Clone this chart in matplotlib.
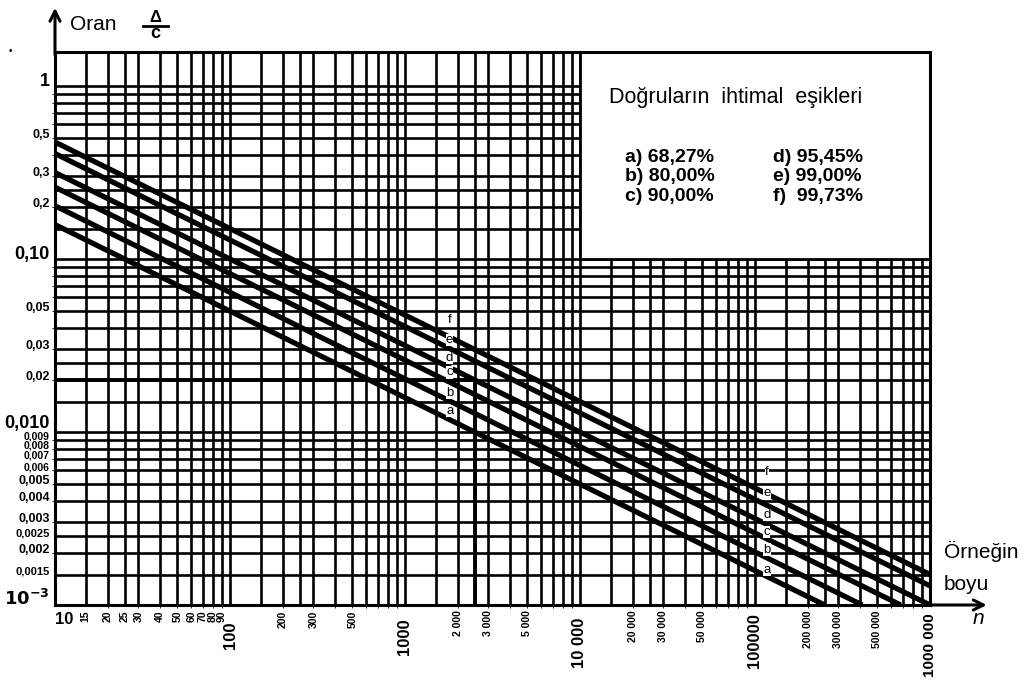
#!/usr/bin/env python

import numpy as np
import matplotlib
matplotlib.use('Agg')
from matplotlib import pyplot as plt
from matplotlib.patches import Rectangle
from matplotlib.lines import Line2D

plt.rcParams['font.family'] = ['Liberation Sans', 'DejaVu Sans']

# Lines of the chart, one per probability threshold
line_names = ['a', 'b', 'c', 'd', 'e', 'f']
line_levels = ['68,27%', '80,00%', '90,00%', '95,45%', '99,00%', '99,73%']

# Ratio read at the left edge (n = 10) and where each line leaves the chart
start_n = [10, 10, 10, 10, 10, 10]
start_ratio = [0.158, 0.203, 0.26, 0.316, 0.407, 0.474]
end_n = [250000, 410000, 680000, 1000000, 1000000, 1000000]
end_ratio = [0.001, 0.001, 0.001, 0.001, 0.00129, 0.0015]

# Worked example drawn on the chart
example_n = 2500
example_ratio = 0.02

# Grid steps inside each decade
grid_steps = [1, 1.5, 2, 2.5, 3, 4, 5, 6, 7, 8, 9]
x_decades = [10, 100, 1000, 10000, 100000]
y_decades = [0.001, 0.01, 0.1, 1]

x_tick_vals = [10, 15, 20, 25, 30, 40, 50, 60, 70, 80, 90, 100, 200, 300, 500,
               1000, 2000, 3000, 5000, 10000, 20000, 30000, 50000, 100000,
               200000, 300000, 500000, 1000000]
x_tick_text = ['10', '15', '20', '25', '30', '40', '50', '60', '70', '80', '90',
               '100', '200', '300', '500', '1000', '2 000', '3 000', '5 000',
               '10 000', '20 000', '30 000', '50 000', '100000', '200 000',
               '300 000', '500 000', '1000 000']
# decade labels are larger and hang a little lower
x_big = [100, 1000, 10000, 100000, 1000000]
x_big_drop = [-0.03, -0.025, -0.022, -0.015, -0.015]

y_tick_vals = [1, 0.5, 0.3, 0.2, 0.1, 0.05, 0.03, 0.02, 0.01, 0.009, 0.008,
               0.007, 0.006, 0.005, 0.004, 0.003, 0.0025, 0.002, 0.0015, 0.001]
y_tick_text = ['1', '0,5', '0,3', '0,2', '0,10', '0,05', '0,03', '0,02', '0,010',
               '0,009', '0,008', '0,007', '0,006', '0,005', '0,004', '0,003',
               '0,0025', '0,002', '0,0015', r'$\mathbf{10^{-3}}$']
y_big = [1, 0.1, 0.01, 0.001]

# where the letter groups sit along the lines
letter_n = [1800, 117000]
letter_lift = [[6, 6, 7, 7, 6, 12], [5, 6, 5, 7, 9, 16]]

W, H = 1027, 685


def px(x, y):
    # pixel position in the figure -> figure fraction
    return x / W, 1 - y / H


def line_value(i, n):
    # value of a straight line (log-log) at n
    lx = np.log10([start_n[i], end_n[i]])
    ly = np.log10([start_ratio[i], end_ratio[i]])
    return 10 ** np.interp(np.log10(n), lx, ly)


fig = plt.figure(figsize=(W / 100, H / 100), dpi=100)
ax = fig.add_axes([55 / W, 80 / H, 875 / W, 553 / H])
ax.set_xscale('log')
ax.set_yscale('log')
ax.set_xlim(10, 1e6)
ax.set_ylim(1e-3, 10 ** (34 / 173))

# grid
for d in x_decades:
    for s in grid_steps:
        ax.axvline(d * s, color='black', lw=1.9, zorder=1)
ax.axvline(1e6, color='black', lw=2, zorder=1)
for d in y_decades:
    for s in grid_steps:
        if d * s < 1.5:
            ax.axhline(d * s, color='black', lw=1.9, zorder=1)

# legend box covers the grid in the upper right
ax.add_patch(Rectangle((1e4, 0.1), 1e6 - 1e4, 2, facecolor='white',
                       edgecolor='black', lw=2, zorder=2))

# probability lines
for i in range(len(line_names)):
    ax.plot([start_n[i], end_n[i]], [start_ratio[i], end_ratio[i]],
            color='black', lw=3.8, solid_capstyle='butt', zorder=3)

# example
ax.plot([10, example_n, example_n], [example_ratio, example_ratio, 1e-3],
        color='black', lw=2.8, zorder=3)

# letters along the lines
for n_pos, lifts in zip(letter_n, letter_lift):
    for i, name in enumerate(line_names):
        ax.annotate(name, (n_pos, line_value(i, n_pos)), xytext=(0, lifts[i]),
                    textcoords='offset points', ha='center', va='center',
                    fontsize=9.5, zorder=4,
                    bbox=dict(facecolor='white', edgecolor='none', pad=0.1))

for s in ax.spines.values():
    s.set_linewidth(2.2)
ax.tick_params(left=False, bottom=False, labelleft=False, labelbottom=False)

# x tick labels
xt = ax.get_xaxis_transform()
for v, s in zip(x_tick_vals, x_tick_text):
    if v == 10:
        ax.text(v, -0.012, s, transform=xt, ha='left', va='top',
                fontsize=12, weight='bold')
    elif v in x_big:
        size = 11 if v == 1000000 else 12
        ax.text(v, x_big_drop[x_big.index(v)], s, transform=xt, ha='center',
                va='top', rotation=90, fontsize=size, weight='bold')
    else:
        ax.text(v, -0.01, s, transform=xt, ha='center', va='top',
                rotation=90, fontsize=7.5, weight='bold')

# y tick labels
yt = ax.get_yaxis_transform()
for v, s in zip(y_tick_vals, y_tick_text):
    if v in y_big:
        size = 13
    elif 0.0055 < v < 0.0095:
        size = 7.5
    elif v in (0.0025, 0.0015):
        size = 8
    else:
        size = 9
    ax.text(-0.006, v, s, transform=yt, ha='right',
            va='bottom' if v == 0.01 else 'baseline',
            fontsize=size, weight='bold')

# legend text
ax.text(0.778, 0.917, 'Doğruların  ihtimal  eşikleri', transform=ax.transAxes,
        ha='center', va='center', fontsize=15.5, zorder=5)
for i, (name, lev) in enumerate(zip(line_names, line_levels)):
    col, row = divmod(i, 3)
    gap = ')  ' if name == 'f' else ') '
    ax.text(0.651 + 0.17 * col, 0.81 - 0.036 * row, name + gap + lev,
            transform=ax.transAxes, ha='left', va='center', fontsize=14,
            weight='bold', zorder=5)

# axis arrows
ax.annotate('', xy=(1.068, 0), xycoords='axes fraction', xytext=(0.99, 0),
            arrowprops=dict(arrowstyle='->', lw=2.2, color='black',
                            mutation_scale=18))
ax.annotate('', xy=(0, 1.085), xycoords='axes fraction', xytext=(0, 0.99),
            arrowprops=dict(arrowstyle='->', lw=2.2, color='black',
                            mutation_scale=18))

# axis names
fig.text(*px(70, 24), 'Oran', ha='left', va='center', fontsize=15)
fig.text(*px(155, 18), 'Δ', ha='center', va='center', fontsize=12,
         weight='bold')
fig.add_artist(Line2D([143 / W, 168 / W], [1 - 26 / H, 1 - 26 / H],
                      color='black', lw=2))
fig.text(*px(155, 34), 'c', ha='center', va='center', fontsize=13,
         weight='bold')
fig.text(*px(10, 51), '•', ha='center', va='center', fontsize=7)
fig.text(*px(944, 551), 'Örneğin', ha='left', va='center', fontsize=15)
fig.text(*px(944, 584), 'boyu', ha='left', va='center', fontsize=15)
fig.text(*px(978, 618), 'n', ha='center', va='center', fontsize=15,
         style='italic')

fig.savefig('out.png', dpi=100)
plt.close(fig)
